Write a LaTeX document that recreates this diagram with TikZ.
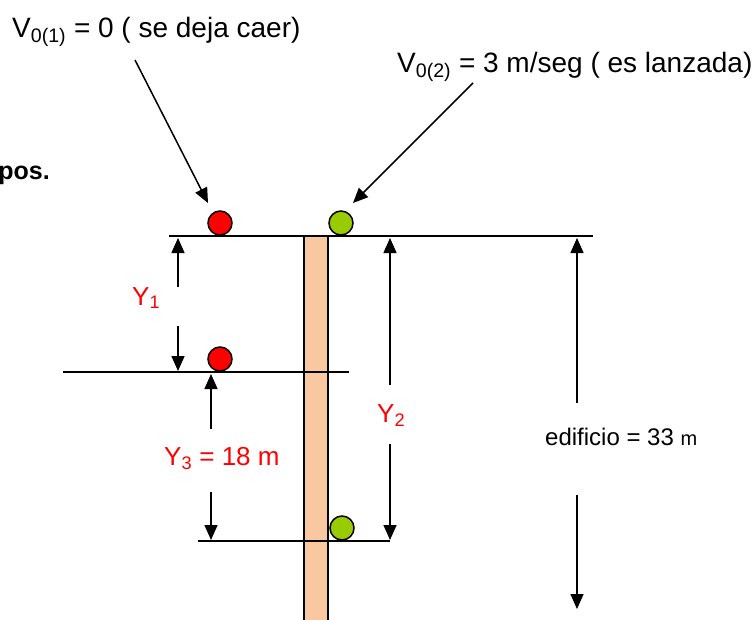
\documentclass[tikz,border=0pt]{standalone}
\usepackage{fontspec}
\setmainfont{Liberation Sans}
\usetikzlibrary{arrows.meta}
\definecolor{rojo}{RGB}{255,0,0}
\definecolor{verde}{RGB}{153,204,0}
\definecolor{poste}{RGB}{250,200,160}
\begin{document}
\begin{tikzpicture}[x=1pt,y=-1pt,
			linea/.style={line width=1.5pt},
			cota/.style={line width=1.5pt, -{Triangle[length=15pt,width=13pt]}},
			br/.style={circle, draw=black, line width=1.5pt, minimum size=24pt, inner sep=0pt, fill=rojo},
			bv/.style={circle, draw=black, line width=1.5pt, minimum size=24pt, inner sep=0pt, fill=verde},
			grande/.style={inner sep=0pt, anchor=base west, font=\fontsize{28}{32}\selectfont},
			etiq/.style={inner sep=0pt, anchor=base west, text=rojo, font=\fontsize{26}{30}\selectfont}]
			\useasboundingbox (0,0) rectangle (755,619);
			\clip (0,0) rectangle (755,619);
			%---------------- TEXTOS ----------------
			\node[grande] (v1) at (12,37) {V\textsubscript{0(1)} = 0 ( se deja caer)};
			\node[grande] (v2) at (397,72) {V\textsubscript{0(2)} = 3 m/seg ( es lanzada)};
			\node[inner sep=0pt, anchor=base east, font=\fontsize{25}{30}\selectfont\bfseries] (pos) at (50,179) {pos.};
			%---------------- EDIFICIO ----------------
			\draw[linea, fill=poste] (304,625) -- (304,236) -- (328,236) -- (328,625);
			\draw[linea] (169,236) -- (593,236);
			\draw[linea] (63,372) -- (349,372);
			\draw[linea] (198,541) -- (390,541);
			%---------------- BOLAS ----------------
			\node[br] (r1) at (220,223) {};
			\node[bv] (g1) at (341,223) {};
			\node[br] (r2) at (220,359) {};
			\node[bv] (g2) at (342,528) {};
			\coordinate (s1) at (135,60);
			\coordinate (t1) at (208,203);
			\coordinate (s2) at (473,83);
			\coordinate (t2) at (353,203);
			\draw[cota] (s1) -- (t1);
			\draw[cota] (s2) -- (t2);
			%---------------- COTAS ----------------
			\node[etiq] (y1) at (132,305) {Y\textsubscript{1}};
			\coordinate (y1a) at (178,287);
			\coordinate (y1b) at (178,238);
			\coordinate (y1c) at (178,326);
			\coordinate (y1d) at (178,371);
			\draw[cota] (y1a) -- (y1b);
			\draw[cota] (y1c) -- (y1d);
			\node[etiq] (y3) at (164,465) {Y\textsubscript{3} = 18 m};
			\coordinate (y3a) at (211,429);
			\coordinate (y3b) at (211,374);
			\coordinate (y3c) at (211,492);
			\coordinate (y3d) at (211,540);
			\draw[cota] (y3a) -- (y3b);
			\draw[cota] (y3c) -- (y3d);
			\node[etiq] (y2) at (377,422) {Y\textsubscript{2}};
			\coordinate (y2a) at (390,385);
			\coordinate (y2b) at (390,238);
			\coordinate (y2c) at (390,444);
			\coordinate (y2d) at (390,540);
			\draw[cota] (y2a) -- (y2b);
			\draw[cota] (y2c) -- (y2d);
			\node[inner sep=0pt, anchor=base west, font=\fontsize{24}{28}\selectfont] (ed) at (545,445) {edificio = 33 {\fontsize{20}{24}\selectfont m}};
			\coordinate (eda) at (577,403);
			\coordinate (edb) at (577,238);
			\coordinate (edc) at (577,495);
			\coordinate (edd) at (577,609);
			\draw[cota] (eda) -- (edb);
			\draw[cota] (edc) -- (edd);
		\end{tikzpicture}
\end{document}
